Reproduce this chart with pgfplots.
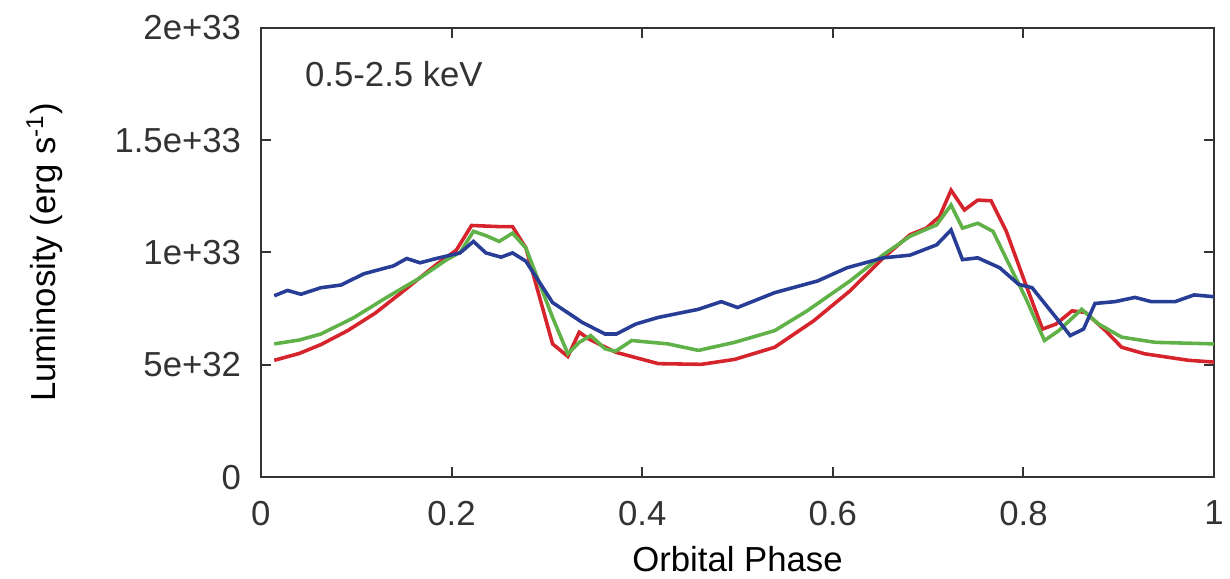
\documentclass[border=0pt]{standalone}
\usepackage{pgfplots}
\pgfplotsset{compat=1.18}
\usepackage{fontspec}
\setmainfont{Liberation Sans}
\definecolor{cred}{RGB}{214,36,44}
\definecolor{cgreen}{RGB}{96,178,72}
\definecolor{cblue}{RGB}{40,62,150}
\begin{document}
\fontsize{17.5}{21}\selectfont
\begin{tikzpicture}
\begin{axis}[
  scale only axis,
  width=480.5pt, height=226.5pt,
  xmin=0, xmax=1, ymin=0, ymax=2e33,
  xtick={0,0.2,0.4,0.6,0.8,1},
  xticklabels={0,0.2,0.4,0.6,0.8,1},
  ytick={0,5e32,1e33,1.5e33,2e33},
  yticklabels={0,5e+32,1e+33,1.5e+33,2e+33},
  scaled y ticks=false,
  scaled x ticks=false,
  tick align=inside,
  major tick length=5pt,
  axis line style={line width=1.2pt, black!80},
  every tick/.style={line width=1pt, black!80},
  tick label style={font=\fontsize{17.5}{21}\selectfont, black!80},
  xticklabel style={yshift=-6pt},
  yticklabel style={xshift=-4pt},
  xlabel={Orbital Phase},
  ylabel={Luminosity (erg s\textsuperscript{-1})},
  label style={font=\fontsize{17.5}{21}\selectfont, black!80},
  every axis x label/.style={at={(axis description cs:0.5,-0.182)}, anchor=center},
  every axis y label/.style={at={(axis description cs:-0.227,0.5)}, rotate=90, anchor=center},
  clip=true,
]
% 0.5-2.5 keV band, three model curves
\addplot[cred, line width=1.8pt] coordinates {
(0.014,0.52e33) (0.04,0.55e33) (0.063,0.59e33) (0.091,0.652e33) (0.12,0.73e33)
(0.15,0.83e33) (0.184,0.946e33) (0.205,1.01e33) (0.221,1.12e33) (0.25,1.115e33)
(0.264,1.115e33) (0.278,1.02e33) (0.306,0.593e33) (0.322,0.537e33) (0.334,0.645e33)
(0.344,0.615e33) (0.372,0.556e33) (0.417,0.505e33) (0.462,0.502e33) (0.497,0.524e33)
(0.539,0.578e33) (0.58,0.696e33) (0.618,0.829e33) (0.653,0.976e33) (0.681,1.079e33)
(0.698,1.108e33) (0.712,1.16e33) (0.724,1.277e33) (0.738,1.189e33) (0.752,1.233e33)
(0.766,1.23e33) (0.782,1.094e33) (0.801,0.873e33) (0.820,0.659e33) (0.834,0.681e33)
(0.851,0.74e33) (0.865,0.733e33) (0.886,0.652e33) (0.903,0.578e33) (0.927,0.549e33)
(0.973,0.52e33) (1.0,0.512e33)
};
\addplot[cgreen, line width=1.8pt] coordinates {
(0.014,0.593e33) (0.04,0.61e33) (0.063,0.637e33) (0.098,0.711e33) (0.132,0.80e33)
(0.167,0.887e33) (0.195,0.968e33) (0.209,1.0e33) (0.223,1.094e33) (0.236,1.075e33)
(0.25,1.049e33) (0.264,1.086e33) (0.278,1.02e33) (0.306,0.711e33) (0.322,0.549e33)
(0.334,0.60e33) (0.346,0.63e33) (0.361,0.571e33) (0.372,0.56e33) (0.389,0.608e33)
(0.427,0.593e33) (0.459,0.564e33) (0.497,0.60e33) (0.539,0.652e33) (0.573,0.74e33)
(0.618,0.873e33) (0.653,0.99e33) (0.681,1.072e33) (0.709,1.123e33) (0.724,1.211e33)
(0.736,1.108e33) (0.752,1.13e33) (0.768,1.094e33) (0.785,0.946e33) (0.802,0.80e33)
(0.822,0.608e33) (0.837,0.652e33) (0.861,0.747e33) (0.879,0.681e33) (0.903,0.623e33)
(0.938,0.60e33) (1.0,0.593e33)
};
\addplot[cblue, line width=1.8pt] coordinates {
(0.014,0.807e33) (0.028,0.831e33) (0.042,0.814e33) (0.063,0.843e33) (0.084,0.855e33)
(0.108,0.905e33) (0.129,0.929e33) (0.139,0.94e33) (0.153,0.973e33) (0.167,0.954e33)
(0.184,0.973e33) (0.209,0.998e33) (0.223,1.049e33) (0.236,0.998e33) (0.252,0.979e33)
(0.264,0.998e33) (0.278,0.961e33) (0.306,0.777e33) (0.337,0.689e33) (0.361,0.637e33)
(0.373,0.637e33) (0.393,0.681e33) (0.417,0.711e33) (0.459,0.747e33) (0.483,0.781e33)
(0.50,0.755e33) (0.539,0.821e33) (0.584,0.873e33) (0.615,0.932e33) (0.653,0.976e33)
(0.681,0.988e33) (0.709,1.034e33) (0.724,1.10e33) (0.736,0.968e33) (0.752,0.976e33)
(0.775,0.932e33) (0.795,0.858e33) (0.809,0.843e33) (0.834,0.711e33) (0.849,0.63e33)
(0.863,0.659e33) (0.875,0.773e33) (0.896,0.781e33) (0.917,0.80e33) (0.934,0.781e33)
(0.959,0.781e33) (0.979,0.811e33) (1.0,0.803e33)
};
\node[anchor=west, inner sep=0pt, text=black!80] at (rel axis cs:0.046,0.896) {0.5-2.5 keV};
\end{axis}
\pgfresetboundingbox
\path[use as bounding box] (-131.5pt,-51pt) rectangle (488.5pt,240.5pt);
\end{tikzpicture}
\end{document}
